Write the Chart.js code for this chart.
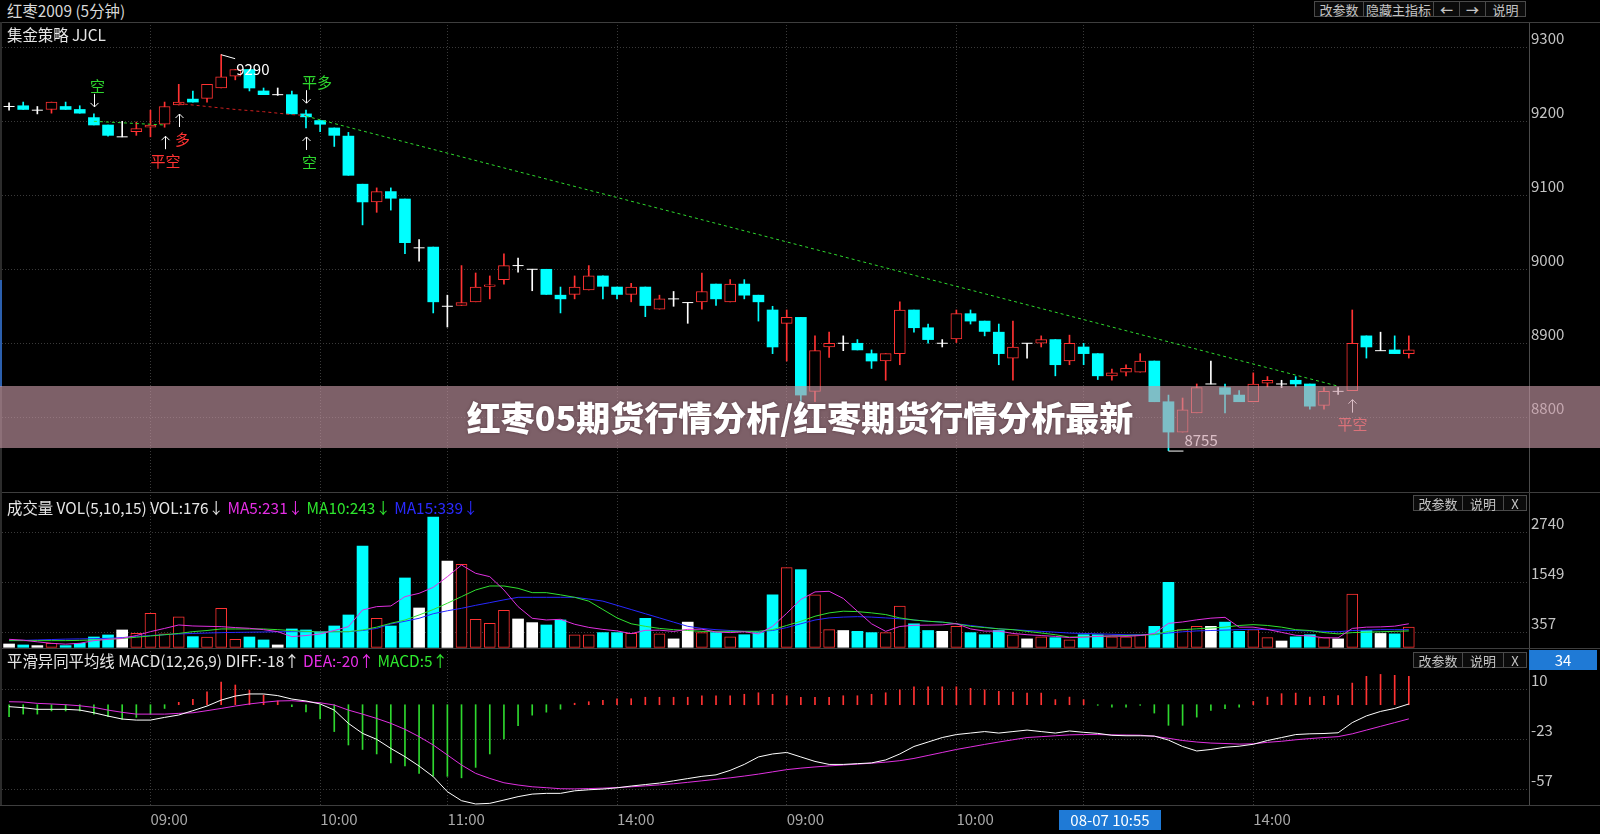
<!DOCTYPE html>
<html>
<head>
<meta charset="utf-8">
<title>红枣2009 (5分钟)</title>
<script src="https://cdn.jsdelivr.net/npm/chart.js"></script>
<style>
  body { margin: 0; background: #000; width: 1600px; height: 834px; overflow: hidden; position: relative;
         font-family: "Noto Sans CJK SC", "Noto Sans", sans-serif; }
  .abs { position: absolute; white-space: nowrap; }
  canvas { position: absolute; left: 0; }
  .btn { position: absolute; height: 16px; line-height: 16px; border: 1px solid #4a4a4a; background: #0b0b0b;
         color: #c4c4c4; font-size: 13px; text-align: center; box-sizing: border-box; z-index: 3; }
  .hline { position: absolute; left: 0; width: 1600px; height: 1px; background: #3e3e3e; z-index: 3; }
  .bluebox { position: absolute; background: #1f7ad6; color: #fff; font-size: 15px; text-align: center; z-index: 4; }
  .ttl { font-size: 15.4px; line-height: 20px; z-index: 3; }
</style>
</head>
<body>

<div class="abs ttl" style="left:7px;top:0px;color:#d8d8d8">红枣2009 (5分钟)</div>
<div class="btn" style="left:1314px;top:1px;width:50px">改参数</div>
<div class="btn" style="left:1363px;top:1px;width:71px">隐藏主指标</div>
<div class="btn" style="left:1433px;top:1px;width:27px;font-weight:bold">←</div>
<div class="btn" style="left:1459px;top:1px;width:27px;font-weight:bold">→</div>
<div class="btn" style="left:1485px;top:1px;width:41px">说明</div>
<div class="hline" style="top:22px"></div>

<canvas id="priceChart" width="1600" height="470" style="top:22px"></canvas>
<canvas id="volChart" width="1600" height="156" style="top:492px"></canvas>
<canvas id="macdChart" width="1600" height="186" style="top:648px"></canvas>

<div class="abs ttl" style="left:7px;top:24px;color:#e6e6e6">集金策略 JJCL</div>

<div class="hline" style="top:492px"></div>
<div class="abs ttl" style="left:7px;top:497px">
  <span style="color:#e6e6e6">成交量 VOL(5,10,15) VOL:176↓</span>
  <span style="color:#e62ee6">MA5:231↓</span>
  <span style="color:#2ee62e">MA10:243↓</span>
  <span style="color:#2a2aff">MA15:339↓</span>
</div>
<div class="btn" style="left:1413px;top:495px;width:50px">改参数</div>
<div class="btn" style="left:1462px;top:495px;width:42px">说明</div>
<div class="btn" style="left:1503px;top:495px;width:24px">X</div>

<div class="hline" style="top:648px"></div>
<div class="abs ttl" style="left:7px;top:650px">
  <span style="color:#e6e6e6">平滑异同平均线 MACD(12,26,9) DIFF:-18↑</span>
  <span style="color:#e62ee6">DEA:-20↑</span>
  <span style="color:#2ee62e">MACD:5↑</span>
</div>
<div class="btn" style="left:1413px;top:652px;width:50px">改参数</div>
<div class="btn" style="left:1462px;top:652px;width:42px">说明</div>
<div class="btn" style="left:1503px;top:652px;width:24px">X</div>
<div class="bluebox" style="left:1529px;top:650px;width:68px;height:20px;line-height:20px">34</div>

<div class="hline" style="top:805px"></div>
<div class="bluebox" style="left:1059px;top:810px;width:102px;height:20px;line-height:20px">08-07 10:55</div>

<div class="abs" style="left:0;top:22px;width:2px;height:783px;background:#2c2c2c;z-index:3"></div>
<div class="abs" style="left:0;top:280px;width:2px;height:107px;background:#2b5fae;z-index:3"></div>

<div class="abs" style="left:0;top:386px;width:1600px;height:62px;background:rgba(198,152,165,0.63);z-index:5;
     text-align:center;line-height:62px;font-size:34px;font-weight:900;color:#fff;text-shadow:0 0 3px rgba(60,30,40,0.6)">红枣05期货行情分析/红枣期货行情分析最新</div>

<script>
// ---- 数据 ----
const openP  = [9220,9221,9215,9216,9220,9216,9205,9195,9179,9186,
                9192,9196,9222,9230,9231,9245,9261,9270,9241,9236,
                9236,9210,9201,9191,9180,9115,9091,9105,9095,9029,
                9030,8950,8951,8956,8977,8986,9005,9000,9000,8965,
                8966,8972,8991,8976,8966,8976,8946,8960,8955,8956,
                8980,8956,8980,8965,8945,8927,8935,8835,8895,8900,
                8900,8886,8876,8886,8945,8921,8900,8906,8940,8930,
                8915,8880,8900,8900,8905,8876,8895,8886,8856,8861,
                8861,8876,8821,8780,8806,8845,8840,8830,8821,8846,
                8845,8850,8845,8816,8835,8836,8910,8890,8891,8886];
const highP  = [9225,9226,9220,9226,9226,9221,9210,9195,9200,9199,
                9215,9226,9250,9241,9250,9290,9270,9270,9245,9245,
                9241,9215,9201,9191,9185,9115,9110,9110,9095,9040,
                9030,8965,9005,8995,8991,9021,9015,9000,9000,8976,
                8991,9005,8991,8976,8981,8976,8965,8970,8955,8995,
                8980,8986,8986,8965,8950,8945,8935,8910,8915,8910,
                8905,8891,8886,8956,8945,8926,8905,8945,8945,8930,
                8926,8930,8900,8910,8905,8911,8900,8886,8865,8871,
                8886,8876,8830,8826,8845,8876,8845,8836,8860,8855,
                8850,8855,8845,8840,8840,8945,8910,8915,8910,8910];
const lowP   = [9215,9216,9210,9211,9216,9211,9195,9180,9179,9181,
                9179,9192,9222,9226,9226,9245,9256,9241,9236,9235,
                9210,9191,9186,9166,9127,9060,9077,9080,9021,9011,
                8941,8922,8951,8956,8960,8980,8996,8971,8966,8941,
                8960,8972,8960,8960,8956,8936,8946,8950,8927,8946,
                8951,8956,8960,8930,8886,8876,8821,8821,8881,8890,
                8891,8866,8850,8871,8915,8900,8895,8901,8926,8910,
                8871,8850,8880,8895,8856,8871,8871,8851,8850,8856,
                8861,8821,8755,8780,8806,8845,8806,8821,8821,8841,
                8840,8841,8811,8811,8831,8836,8880,8890,8886,8880];
const closeP = [9220,9216,9215,9226,9216,9211,9195,9181,9179,9190,
                9195,9220,9226,9226,9250,9260,9270,9245,9236,9236,
                9210,9206,9196,9181,9127,9091,9105,9096,9036,9029,
                8956,8950,8955,8976,8979,9005,9005,9000,8966,8960,
                8976,8991,8977,8966,8976,8951,8960,8960,8955,8970,
                8960,8980,8965,8956,8895,8935,8830,8890,8900,8900,
                8891,8876,8886,8945,8921,8905,8900,8940,8930,8916,
                8886,8895,8900,8905,8871,8900,8886,8856,8860,8866,
                8876,8821,8780,8810,8840,8845,8831,8821,8845,8850,
                8845,8845,8815,8835,8835,8900,8895,8890,8886,8891];

const volume = [79,56,40,95,40,95,246,294,413,333,
                810,318,723,254,246,929,191,246,175,56,
                437,413,373,508,770,2414,691,508,1652,937,
                3105,2056,1977,667,572,881,675,588,532,651,
                300,300,350,350,330,690,320,200,600,350,
                350,250,300,350,1250,1900,1850,1250,420,400,
                380,350,350,980,560,400,380,500,350,300,
                400,300,200,250,230,176,300,300,250,250,
                300,500,1550,420,500,500,600,380,420,230,
                150,250,300,230,200,1270,400,330,320,480];
const volMA5  = [190,170,130,95,75,95,159,190,214,280,
                 373,450,532,508,500,492,470,453,420,373,
                 254,280,318,400,492,889,969,985,1207,1286,
                 1429,1683,1961,1763,1683,1366,969,691,651,667,
                 549,474,427,390,326,404,408,378,428,432,
                 364,350,370,320,500,810,1140,1320,1334,1164,
                 860,560,380,496,524,528,534,564,438,386,
                 386,330,300,280,260,231,240,260,270,260,
                 280,330,570,604,654,694,714,480,480,426,
                 356,286,270,226,226,450,480,486,504,560];
const volMA10 = [159,159,159,159,159,165,175,190,210,240,
                 270,300,330,373,400,437,437,437,437,420,
                 397,380,365,370,373,413,480,572,650,770,
                 900,1050,1207,1366,1461,1461,1405,1302,1302,1250,
                 1191,1100,900,700,560,500,450,420,400,380,
                 380,380,380,380,420,520,620,740,820,860,
                 850,820,780,700,650,620,600,560,500,470,
                 440,420,380,340,300,243,250,260,270,280,
                 290,300,380,420,440,460,480,520,540,520,
                 480,420,400,350,320,350,360,370,380,390];
const volMA15 = [159,165,175,185,195,200,205,214,230,260,
                 280,300,318,330,340,349,355,360,365,370,
                 373,373,373,373,373,400,450,556,620,691,
                 800,870,929,1000,1064,1130,1191,1191,1191,1191,
                 1191,1150,1100,1000,900,800,700,600,500,450,
                 420,400,380,380,400,470,560,650,700,720,
                 730,720,700,680,650,620,600,560,520,480,
                 440,420,400,380,360,339,330,320,310,300,
                 300,310,340,370,390,400,410,420,430,420,
                 410,400,390,380,370,400,410,420,420,420];

const diffLine = [-1.3,-2,-3.1,-3.1,-3.1,-3.6,-5.4,-7.6,-9.6,-10.3,
                  -10.3,-8.5,-6.9,-4,-0.9,3.1,5.8,7.2,7.2,6.1,
                  3.8,2.5,0.5,-3.6,-12.5,-19.2,-23.2,-29.3,-34.8,-41.1,
                  -48.2,-58.3,-64.3,-66.5,-66.1,-63.9,-61.6,-59.9,-59.4,-59.4,
                  -57.7,-57,-56.5,-55.7,-54.5,-53.5,-52.5,-51,-49.5,-48,
                  -47,-44,-40,-35,-33,-32,-35,-38,-40,-40,
                  -39.5,-39,-37,-33,-28,-25,-22,-20,-19,-18,
                  -19,-18,-17,-18,-19,-17.6,-18.5,-19.2,-20.5,-20.8,
                  -20.8,-21,-23.7,-28,-31,-30,-28.5,-27.8,-26.5,-24,
                  -22,-20,-19.5,-19.3,-18.8,-12,-7.5,-4.5,-2.5,0.5];
const deaLine  = [2,1.8,0.9,0.5,0,-0.7,-1.8,-3.6,-5.1,-6.3,
                  -6.3,-6.3,-5.8,-5.4,-4,-2.5,-0.9,0.5,1.6,2.5,
                  2.7,2,1.3,-0.2,-3.6,-6.3,-9.2,-12.5,-16.5,-21.4,
                  -27,-33.7,-40.4,-46,-49.4,-52.3,-53.8,-55,-55.6,-56.3,
                  -56.4,-56.2,-55.9,-55.5,-55,-54.4,-53.7,-53,-52,-51,
                  -50,-49,-47.8,-46.5,-45,-43.5,-42.5,-41.7,-41,-40.4,
                  -39.8,-39.2,-38.5,-37.5,-36,-34,-32,-30,-28.3,-26.6,
                  -25,-23.5,-22,-21.4,-20.8,-20.2,-20,-20,-20.2,-20.3,
                  -20.4,-21.2,-22.5,-24,-25,-25.7,-26,-26.4,-26.2,-25.2,
                  -24.5,-23.5,-22.7,-22,-21.4,-19.5,-17,-14.5,-12,-9.5];
const macdBar  = [-8,-6.3,-6.3,-4.2,-4.2,-4.2,-6.3,-8,-9.8,-8.5,
                  -6.3,-2.5,1.6,3.6,8.7,15.2,13.2,9.8,6.5,2.5,
                  -1.3,-4.9,-9.6,-18,-27,-30,-33,-39,-41,-46,
                  -48,-48,-49,-42,-33,-23,-14,-7,-5,-3,
                  1,2,3,4,4,5,5,5,5,6,
                  6,6,7,8,7,6,5,5,5,6,
                  6,7,8,10,12,12,12,12,11,10,
                  9,8.5,7.8,7.8,3.4,5.1,3.4,-0.4,-1.6,-1.6,
                  -0.4,-5.6,-13.8,-13.8,-8.3,-3.8,-2.7,-1.6,2.2,5.1,
                  7.4,7.8,5.1,5.6,6.2,14.5,19,20.3,19.7,19];

// 止损线 (只给出读到的点)
const greenStopA = {6: 9200, 11: 9195};
const redStop    = {12: 9224, 13: 9222, 14: 9220, 15: 9218, 16: 9216, 17: 9214.5, 18: 9213, 19: 9211, 20: 9209, 21: 9208};
const greenStopB = {21: 9207, 94: 8842};

// 信号
const signalIndex = [6, 11, 12, 21, 21, 95];
const signalText  = ['空', '平空', '多', '平多', '空', '平空'];
const signalSide  = ['above', 'below', 'below', 'above', 'below', 'below'];

// 坐标刻度
const priceTicks = [8800, 8900, 9000, 9100, 9200, 9300];
const volTicks   = [357, 1549, 2740];
const macdTicks  = [-56.7, -23.2, 10.3];
const timeTickIndex = [10, 22, 31, 43, 55, 67, 76, 88];
const timeTickText  = ['09:00', '10:00', '11:00', '14:00', '09:00', '10:00', '11:00', '14:00'];
const SLOTS = 108;

// ---- 构建 ----
const labels = Array.from({length: SLOTS}, () => '');
timeTickIndex.forEach((k, j) => { labels[k] = timeTickText[j]; });

const RED = '#ff3232', CYAN = '#00ffff', WHITE = '#ffffff', GREEN = '#2ed82e', MAG = '#e030e0', BLUE = '#2828ff';
const dir = openP.map((o, i) => closeP[i] > o ? 1 : (closeP[i] < o ? -1 : 0));
const colorOf = d => d > 0 ? RED : (d < 0 ? CYAN : WHITE);
const sparse = obj => openP.map((_, i) => obj[i] === undefined ? null : obj[i]);
const FONT = '"Noto Sans CJK SC", "Noto Sans", sans-serif';

Chart.defaults.font.family = FONT;

function xScale(showLabels) {
  return {
    type: 'category', offset: true,
    grid: { offset: false, drawTicks: false, lineWidth: 1,
            color: c => (c.tick && c.tick.label) ? '#3a3a3a' : 'rgba(0,0,0,0)' },
    border: { display: false, dash: [1, 2] },
    ticks: { display: showLabels, autoSkip: false, maxRotation: 0, align: 'start',
             color: '#a8a8a8', font: { size: 15 }, padding: 5 },
    afterFit: s => { s.height = showLabels ? 29 : 0; s.paddingLeft = 0; s.paddingRight = 0; }
  };
}
function yScale(min, max, ticks, fmt) {
  return {
    position: 'right', min, max,
    afterFit: s => { s.width = 71; s.paddingTop = 0; s.paddingBottom = 0; },
    afterBuildTicks: s => { s.ticks = ticks.map(v => ({ value: v })); },
    grid: { color: '#3a3a3a', drawTicks: false },
    border: { display: true, color: '#4a4a4a', dash: [1, 2] },
    ticks: { color: '#c4c4c4', font: { size: 15 }, padding: 2, labelOffset: -9, callback: fmt }
  };
}
const baseOpts = {
  responsive: false, animation: false, events: [],
  layout: { autoPadding: false, padding: { left: 2, right: 0, top: 0, bottom: 0 } },
  plugins: { legend: { display: false }, tooltip: { enabled: false } }
};

// 价格图上的文字标注
const marksPlugin = {
  id: 'marks',
  afterDatasetsDraw(chart) {
    const { ctx, scales: { x, y } } = chart;
    ctx.save();
    ctx.lineWidth = 1;
    ctx.strokeStyle = '#ffffff';
    ctx.fillStyle = '#ffffff';
    ctx.font = '15px ' + FONT;
    ctx.textBaseline = 'middle';
    // 最高价
    const hiIdx = highP.indexOf(Math.max(...highP));
    const hx = x.getPixelForValue(hiIdx), hy = y.getPixelForValue(highP[hiIdx]);
    ctx.beginPath(); ctx.moveTo(hx, hy); ctx.lineTo(hx + 14, hy + 4); ctx.stroke();
    ctx.fillText(String(highP[hiIdx]), hx + 15, hy + 15);
    // 最低价
    const loIdx = lowP.indexOf(Math.min(...lowP));
    const lx = x.getPixelForValue(loIdx), ly = y.getPixelForValue(lowP[loIdx]);
    ctx.beginPath(); ctx.moveTo(lx, ly + 0.5); ctx.lineTo(lx + 15, ly + 0.5); ctx.stroke();
    ctx.fillText(String(lowP[loIdx]), lx + 16, ly - 10);
    // 信号
    signalIndex.forEach((k, j) => {
      const txt = signalText[j];
      const col = txt.indexOf('多') >= 0 ? (txt === '多' ? RED : GREEN) : (txt === '空' ? GREEN : RED);
      const cx = Math.round(x.getPixelForValue(k)) + 0.5;
      const above = signalSide[j] === 'above';
      const ref = above ? y.getPixelForValue(highP[k]) : y.getPixelForValue(lowP[k]);
      const a0 = above ? ref - 20 : ref + 22;
      const a1 = above ? ref - 7 : ref + 9;
      ctx.strokeStyle = '#ffffff';
      ctx.beginPath(); ctx.moveTo(cx, a0); ctx.lineTo(cx, a1);
      const dy = above ? -4 : 4;
      ctx.moveTo(cx - 4, a1 + dy); ctx.lineTo(cx, a1); ctx.lineTo(cx + 4, a1 + dy);
      ctx.stroke();
      ctx.fillStyle = col;
      ctx.font = '15px ' + FONT;
      const w = ctx.measureText(txt).width;
      const tx = txt === '平空' ? cx - w / 2 : cx - 4.5;
      const ty = above ? ref - 27.5 : ref + 34;
      ctx.fillText(txt, tx, ty);
    });
    ctx.restore();
  }
};

new Chart(document.getElementById('priceChart'), {
  type: 'bar',
  data: {
    labels,
    datasets: [
      { type: 'bar', data: lowP.map((l, i) => [l, highP[i]]), backgroundColor: dir.map(colorOf),
        barThickness: 1, grouped: false, order: 3 },
      { type: 'bar', data: openP.map((o, i) => dir[i] === 0 ? null : [Math.min(o, closeP[i]), Math.max(o, closeP[i])]),
        backgroundColor: dir.map(d => d > 0 ? '#000000' : CYAN), borderColor: dir.map(d => d > 0 ? RED : CYAN),
        borderWidth: dir.map(d => d > 0 ? 1 : 0), borderSkipped: false, barThickness: 11, grouped: false, order: 2 },
      { type: 'line', data: dir.map((d, i) => d === 0 ? closeP[i] : null), showLine: false,
        pointStyle: 'line', pointRadius: 5.5, borderColor: WHITE, borderWidth: 1, order: 1 },
      { type: 'line', data: sparse(greenStopA), spanGaps: true, borderColor: '#2ed82e', borderWidth: 1,
        borderDash: [3, 3], pointRadius: 0, order: 0 },
      { type: 'line', data: sparse(redStop), spanGaps: true, borderColor: '#d02020', borderWidth: 1,
        borderDash: [3, 3], pointRadius: 0, order: 0 },
      { type: 'line', data: sparse(greenStopB), spanGaps: true, borderColor: '#2ed82e', borderWidth: 1,
        borderDash: [3, 3], pointRadius: 0, order: 0 }
    ]
  },
  options: {
    ...baseOpts,
    scales: { x: xScale(false), y: yScale(8699, 9334.2, priceTicks, v => String(v)) }
  },
  plugins: [marksPlugin]
});

new Chart(document.getElementById('volChart'), {
  type: 'bar',
  data: {
    labels,
    datasets: [
      { type: 'line', data: volMA5, borderColor: MAG, borderWidth: 1, pointRadius: 0, order: 0 },
      { type: 'line', data: volMA10, borderColor: '#30e030', borderWidth: 1, pointRadius: 0, order: 0 },
      { type: 'line', data: volMA15, borderColor: BLUE, borderWidth: 1, pointRadius: 0, order: 0 },
      { type: 'bar', data: volume, backgroundColor: dir.map(d => d > 0 ? '#000000' : (d < 0 ? CYAN : WHITE)),
        borderColor: dir.map(d => d > 0 ? RED : (d < 0 ? CYAN : WHITE)), borderWidth: dir.map(d => d > 0 ? 1 : 0),
        borderSkipped: false, barThickness: 11, grouped: false, order: 1 }
    ]
  },
  options: {
    ...baseOpts,
    scales: { x: xScale(false), y: yScale(-16.7, 3700, volTicks, v => String(Math.round(v))) }
  }
});

new Chart(document.getElementById('macdChart'), {
  type: 'bar',
  data: {
    labels,
    datasets: [
      { type: 'line', data: diffLine, borderColor: '#ffffff', borderWidth: 1, pointRadius: 0, order: 0 },
      { type: 'line', data: deaLine, borderColor: MAG, borderWidth: 1, pointRadius: 0, order: 0 },
      { type: 'bar', data: macdBar, backgroundColor: macdBar.map(v => v >= 0 ? RED : GREEN),
        barThickness: 1, grouped: false, order: 1 }
    ]
  },
  options: {
    ...baseOpts,
    scales: { x: xScale(true), y: yScale(-67.2, 38, macdTicks, v => String(Math.round(v))) }
  }
});
</script>
</body>
</html>
